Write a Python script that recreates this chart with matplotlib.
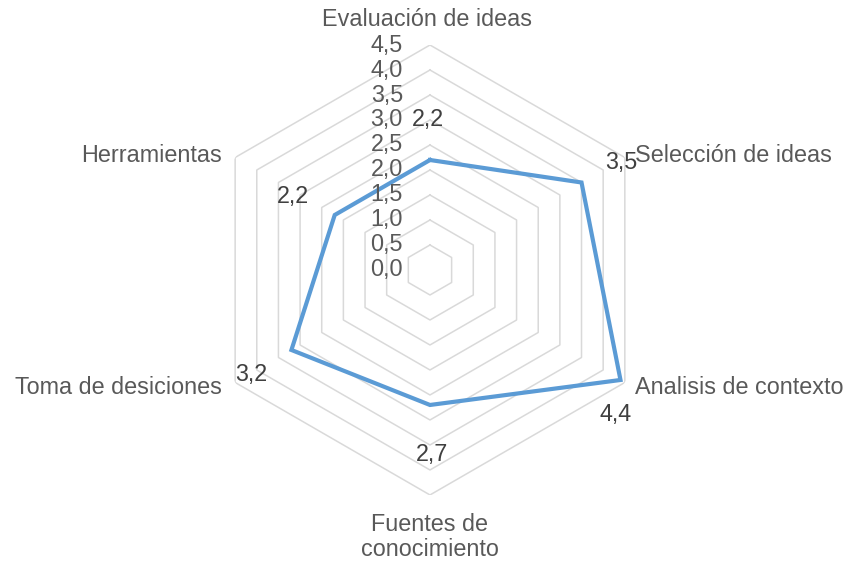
import matplotlib.pyplot as plt
import numpy as np

plt.rcParams["font.family"] = ["Liberation Sans", "DejaVu Sans"]

categories = ["Evaluación de ideas", "Selección de ideas", "Analisis de contexto",
              "Fuentes de\nconocimiento", "Toma de desiciones", "Herramientas"]
values = [2.2, 3.5, 4.4, 2.7, 3.2, 2.2]
value_labels = ["2,2", "3,5", "4,4", "2,7", "3,2", "2,2"]
r_ticks = [0.0, 0.5, 1.0, 1.5, 2.0, 2.5, 3.0, 3.5, 4.0, 4.5]
r_tick_labels = ["0,0", "0,5", "1,0", "1,5", "2,0", "2,5", "3,0", "3,5", "4,0", "4,5"]

GRID = "#D9D9D9"
LINE = "#5B9BD5"
TXT = "#595959"
LBL = "#404040"
FS = 16.8

n = len(categories)
theta = np.arange(n) * 2 * np.pi / n
theta_closed = np.append(theta, theta[0])

fig = plt.figure(figsize=(8.45, 5.63), dpi=100)
ax = fig.add_axes([0.2426, 0.1208, 0.5325, 0.7993], projection="polar")
ax.set_theta_zero_location("N")
ax.set_theta_direction(-1)
ax.set_ylim(0, 4.5)
ax.grid(False)
ax.spines["polar"].set_visible(False)
ax.set_xticks([])
ax.set_yticks([])
ax.patch.set_alpha(0)

# hexagon rings
for r in r_ticks[1:]:
    ax.plot(theta_closed, [r] * (n + 1), color=GRID, lw=1.1, zorder=1)

# data line
vals_closed = values + values[:1]
ax.plot(theta_closed, vals_closed, color=LINE, lw=3.0, solid_joinstyle="miter", zorder=3)

# radial tick labels
for r, lab in zip(r_ticks, r_tick_labels):
    ax.annotate(lab, (0, r), xytext=(-27, 0), textcoords="offset pixels",
                ha="right", va="center", fontsize=FS, color=TXT, annotation_clip=False)

# category labels
cat_offsets = [(-3, 26), (10, 2), (10, -5), (0, -42), (-13, -5), (-13, 2)]
cat_ha = ["center", "left", "left", "center", "right", "right"]
for t, lab, off, ha in zip(theta, categories, cat_offsets, cat_ha):
    ax.annotate(lab, (t, 4.5), xytext=off, textcoords="offset pixels",
                ha=ha, va="center", multialignment="center", fontsize=FS,
                color=TXT, linespacing=1.15, annotation_clip=False)

# data labels
val_offsets = [(-2, 40), (40, 20), (-5, -35), (2, -50), (-40, -25), (-42, 18)]
for t, v, lab, off in zip(theta, values, value_labels, val_offsets):
    ax.annotate(lab, (t, v), xytext=off, textcoords="offset pixels",
                ha="center", va="center", fontsize=FS, color=LBL, annotation_clip=False)

fig.savefig("out.png", dpi=100)
